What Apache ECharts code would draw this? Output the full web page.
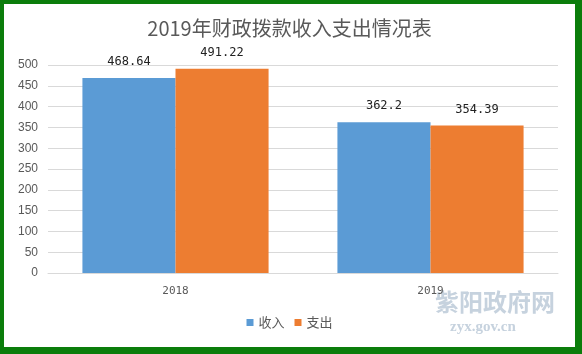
<!DOCTYPE html>
<html>
<head>
<meta charset="utf-8">
<script src="https://cdn.jsdelivr.net/npm/echarts@6/dist/echarts.min.js"></script>
<style>
  html, body { margin: 0; padding: 0; width: 582px; height: 354px; background: #0b7d0b; overflow: hidden; }
  #chart { position: absolute; left: 4px; top: 4px; width: 571px; height: 343px; background: #fff; }
</style>
</head>
<body>
<div id="chart"></div>
<script>
const years = ["2018", "2019"];
const income = [468.64, 362.2];
const expense = [491.22, 354.39];
const seriesNames = ["收入", "支出"];

const chart = echarts.init(document.getElementById("chart"), null, { renderer: "canvas" });

const labelStyle = {
  show: true,
  position: "top",
  distance: 10,
  color: "#222",
  fontSize: 12,
  fontFamily: "DejaVu Sans Mono",
};

chart.setOption({
  animation: false,
  backgroundColor: "#fff",
  title: {
    text: "2019年财政拨款收入支出情况表",
    left: "center",
    top: 9,
    textStyle: { color: "#595959", fontSize: 20, fontWeight: "normal", fontFamily: "Noto Sans CJK SC" },
  },
  legend: {
    data: seriesNames,
    bottom: 13,
    left: "center",
    icon: "rect",
    itemWidth: 7,
    itemHeight: 7,
    itemGap: 10,
    textStyle: { color: "#595959", fontSize: 13, fontFamily: "Noto Sans CJK SC" },
  },
  grid: { left: 44, right: 17, top: 61, bottom: 74 },
  xAxis: {
    type: "category",
    data: years,
    axisLine: { lineStyle: { color: "#d9d9d9" } },
    axisTick: { show: false },
    axisLabel: { color: "#595959", fontSize: 11, fontFamily: "DejaVu Sans Mono", margin: 13 },
  },
  yAxis: {
    type: "value",
    min: 0,
    max: 500,
    interval: 50,
    axisLine: { show: false },
    axisTick: { show: false },
    splitLine: { lineStyle: { color: "#d9d9d9" } },
    axisLabel: { color: "#595959", fontSize: 12, fontFamily: "Liberation Sans", margin: 10 },
  },
  series: [
    {
      name: seriesNames[0],
      type: "bar",
      data: income,
      barGap: "0%",
      barCategoryGap: "27%",
      itemStyle: { color: "#5b9bd5" },
      label: labelStyle,
    },
    {
      name: seriesNames[1],
      type: "bar",
      data: expense,
      itemStyle: { color: "#ed7d31" },
      label: labelStyle,
    },
  ],
  graphic: [
    {
      type: "text",
      left: 431,
      top: 286,
      style: { text: "紫阳政府网", fill: "#c6d2de", font: "bold 24px 'Noto Sans CJK SC'" },
      silent: true,
    },
    {
      type: "text",
      left: 446,
      top: 316,
      style: { text: "zyx.gov.cn", fill: "#c6d2de", font: "bold 15px 'Liberation Serif'", letterSpacing: 2 },
      silent: true,
    },
  ],
});
</script>
</body>
</html>
